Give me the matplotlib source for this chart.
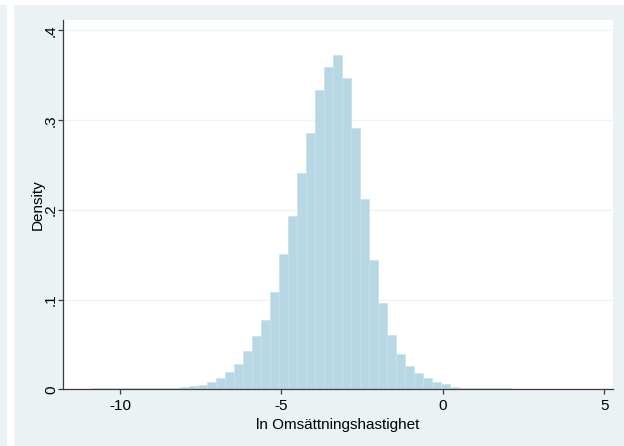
import numpy as np
import matplotlib.pyplot as plt
from matplotlib.patches import Rectangle

plt.rcParams['font.family'] = ['Liberation Sans', 'DejaVu Sans']

# histogram: 47 bins from -10.91 to 2.16
bin_start = -10.91
bin_width = 0.278
density = [
    0.0010, 0.0010, 0.0010, 0.0010, 0.0010, 0.0011, 0.0011, 0.0012, 0.0013,
    0.0016, 0.0023, 0.0037, 0.0053, 0.0080, 0.0125, 0.0196, 0.0281, 0.0426,
    0.0592, 0.0777, 0.1088, 0.1505, 0.1930, 0.2410, 0.2860, 0.3333, 0.3590,
    0.3723, 0.3470, 0.2916, 0.2125, 0.1445, 0.0960, 0.0602, 0.0397, 0.0256,
    0.0185, 0.0122, 0.0076, 0.0057, 0.0026, 0.0016, 0.0013, 0.0012, 0.0011,
    0.0010, 0.0010,
]
x_ticks = [-10, -5, 0, 5]
y_ticks = [0, 0.1, 0.2, 0.3, 0.4]
y_tick_labels = ['0', '.1', '.2', '.3', '.4']

W, H = 624, 446
bg = '#EAF2F3'
bar_color = '#B8D7E4'
axis_color = '#3C3C3C'

fig = plt.figure(figsize=(W / 100, H / 100), dpi=100, facecolor='white')

# Stata-like graph region, kept behind the axes
fig.patches.append(Rectangle((0, 0), 6.5 / W, (H - 5) / H, transform=fig.transFigure,
                             facecolor=bg, edgecolor='none', zorder=-5))
fig.patches.append(Rectangle((13.5 / W, 0), (W - 13.5) / W, (H - 5) / H, transform=fig.transFigure,
                             facecolor=bg, edgecolor='none', zorder=-5))

ax = fig.add_axes([63 / W, (H - 389.3) / H, (613 - 63) / W, (389.3 - 20) / H])
ax.set_zorder(1)
ax.set_facecolor('white')

edges = bin_start + bin_width * np.arange(len(density))
ax.bar(edges, density, width=bin_width, align='edge', color=bar_color,
       edgecolor='#C9E0EA', linewidth=0.5, zorder=2)

ax.set_xlim(-11.767, 5.27)
ax.set_ylim(0, 0.4117)

ax.set_yticks(y_ticks)
ax.set_yticklabels(y_tick_labels, rotation=90, va='center')
ax.set_xticks(x_ticks)
ax.set_xticklabels([str(t) for t in x_ticks])

ax.grid(axis='y', color='#EEF3F4', linewidth=1.0, zorder=1)
ax.set_axisbelow(True)

for side in ['top', 'right']:
    ax.spines[side].set_visible(False)
for side in ['left', 'bottom']:
    ax.spines[side].set_color(axis_color)
    ax.spines[side].set_linewidth(0.9)
    ax.spines[side].set_zorder(3)

ax.tick_params(axis='both', direction='out', length=3.6, width=0.9, color=axis_color,
               labelsize=11, labelcolor='black')
ax.tick_params(axis='x', pad=3.5)
ax.tick_params(axis='y', pad=0)

ax.set_xlabel('ln Omsättningshastighet', fontsize=11, labelpad=3.5)
ax.set_ylabel('Density', fontsize=11, labelpad=-0.5)

fig.savefig('out.png', dpi=100, facecolor=fig.get_facecolor())
